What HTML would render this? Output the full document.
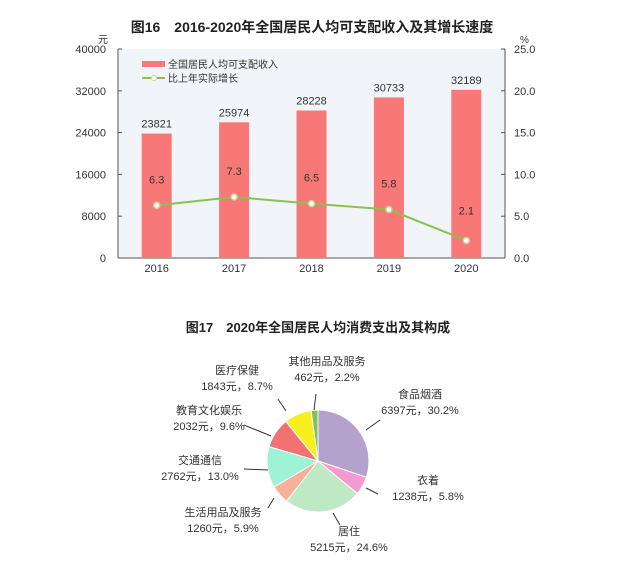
<!DOCTYPE html>
<html><head><meta charset="utf-8"><style>
body{margin:0;background:#fff;}
svg text{font-family:"Liberation Sans","Noto Sans CJK SC",sans-serif;}
</style></head><body>
<svg id="root" width="640" height="570" viewBox="0 0 640 570" xmlns="http://www.w3.org/2000/svg">
<rect width="640" height="570" fill="#fff"/>
<text x="312" y="32" text-anchor="middle" font-size="14" font-weight="bold" fill="#222">图16　2016-2020年全国居民人均可支配收入及其增长速度</text>
<g id="bar"></g>
<text x="318" y="332" text-anchor="middle" font-size="13" font-weight="bold" fill="#222">图17　2020年全国居民人均消费支出及其构成</text>
<g id="pie"></g>
</svg>
<script>
const years=["2016","2017","2018","2019","2020"];
const income=[23821,25974,28228,30733,32189];
const growth=[6.3,7.3,6.5,5.8,2.1];
const leftTicks=[0,8000,16000,24000,32000,40000];
const rightTicks=["0.0","5.0","10.0","15.0","20.0","25.0"];
const pieLabels=["食品烟酒","衣着","居住","生活用品及服务","交通通信","教育文化娱乐","医疗保健","其他用品及服务"];
const pieValues=[6397,1238,5215,1260,2762,2032,1843,462];
const piePct=["30.2%","5.8%","24.6%","5.9%","13.0%","9.6%","8.7%","2.2%"];
const NS="http://www.w3.org/2000/svg";
function mk(p,t,a,txt){const e=document.createElementNS(NS,t);for(const k in a)e.setAttribute(k,a[k]);if(txt!=null)e.textContent=txt;p.appendChild(e);return e;}
const g=document.getElementById('bar');
const X0=118,X1=505,Y0=258,Y1=49;
const band=(X1-X0)/years.length;
const xc=i=>X0+band*(i+0.5);
const yL=v=>Y0-(v/40000)*(Y0-Y1);
const yR=v=>Y0-(v/25)*(Y0-Y1);
let e=mk(g,'rect',{x:X0,y:Y1,width:X1-X0,height:Y0-Y1,fill:'#f1f5f9'});

leftTicks.forEach((t,i)=>{
  let y=yL(t);
  mk(g,'line',{x1:X0,x2:X0+4,y1:y,y2:y,stroke:'#555'});
  let tx=mk(g,'text',{x:106,y:y+4,'text-anchor':'end','font-size':11,fill:'#333'},t);
  
  mk(g,'line',{x1:X1-4,x2:X1,y1:y,y2:y,stroke:'#555'});
  let rt=mk(g,'text',{x:514,y:y+4,'font-size':11,fill:'#333'},rightTicks[i]);
  
});
e=mk(g,'text',{x:98,y:43,'font-size':10,fill:'#333'},'元');
e=mk(g,'text',{x:520,y:43,'font-size':10,fill:'#333'},'%');
mk(g,'line',{x1:X0,x2:X0,y1:Y1,y2:Y0,stroke:'#555'});
mk(g,'line',{x1:X1,x2:X1,y1:Y1,y2:Y0,stroke:'#555'});
mk(g,'line',{x1:X0,x2:X1,y1:Y0,y2:Y0,stroke:'#555'});
years.forEach((yr,i)=>{
  let b=mk(g,'rect',{x:xc(i)-15,y:yL(income[i]),width:30,height:Y0-yL(income[i]),fill:'#f87878'});
  
  let t=mk(g,'text',{x:xc(i),y:yL(income[i])-6,'text-anchor':'middle','font-size':11,fill:'#333'},income[i]);
  
  let xl=mk(g,'text',{x:xc(i),y:272,'text-anchor':'middle','font-size':11,fill:'#333'},yr);
  
  let gl=mk(g,'text',{x:xc(i),y:yR(growth[i])-(i==4?26:22),'text-anchor':'middle','font-size':11,fill:'#333'},growth[i].toFixed(1));
  
});
let pl=mk(g,'polyline',{points:growth.map((v,i)=>xc(i)+','+yR(v)).join(' '),fill:'none',stroke:'#8dc04f','stroke-width':2});

growth.forEach((v,i)=>{let c=mk(g,'circle',{cx:xc(i),cy:yR(v),r:3,fill:'#fff',stroke:'#c8d890','stroke-width':1.5});
});
e=mk(g,'rect',{x:142,y:61,width:23,height:6,fill:'#f87878'});
e=mk(g,'text',{x:168,y:68,'font-size':10,fill:'#333'},'全国居民人均可支配收入');
mk(g,'line',{x1:142,x2:165,y1:78,y2:78,stroke:'#8dc04f','stroke-width':2});
mk(g,'circle',{cx:154,cy:78,r:2.5,fill:'#fff',stroke:'#c8d890'});
e=mk(g,'text',{x:168,y:82,'font-size':10,fill:'#333'},'比上年实际增长');

const p=document.getElementById('pie');
const cx=318,cy=461,R=51;
const colors=['#b4a2cc','#f59ad0','#bfe8c4','#f7b19a','#9ef2d6','#f07272','#f7f01e','#7cc45a'];
const labelPos=[[420,398],[428,484],[349,535],[223,516],[200,464],[209,414],[237,374],[327,365]];
const lines=[[[366,430],[380,420]],[[366,488],[378,494]],[[333,513],[340,525]],[[274,498],[268,508]],[[268,470],[244,469]],[[271,436],[244,425]],[[286,411],[278,399]],[[314,410],[316,394]]];
const total=pieValues.reduce((a,b)=>a+b,0);
let ang=-Math.PI/2;
pieValues.forEach((v,i)=>{
  let a2=ang+v/total*2*Math.PI;
  let x1=cx+R*Math.cos(ang),y1=cy+R*Math.sin(ang),x2=cx+R*Math.cos(a2),y2=cy+R*Math.sin(a2);
  let s=mk(p,'path',{d:`M${cx},${cy}L${x1},${y1}A${R},${R} 0 ${a2-ang>Math.PI?1:0} 1 ${x2},${y2}Z`,fill:colors[i],stroke:'#fff','stroke-width':1});
  
  ang=a2;
  let [lx,ly]=labelPos[i];
  let t1=mk(p,'text',{x:lx,y:ly,'text-anchor':'middle','font-size':11,fill:'#333'},pieLabels[i]);
  
  let t2=mk(p,'text',{x:lx,y:ly+16,'text-anchor':'middle','font-size':11,fill:'#333'},pieValues[i]+'元，'+piePct[i]);
  
  let L=lines[i];let ln=mk(p,'line',{x1:L[0][0],y1:L[0][1],x2:L[1][0],y2:L[1][1],stroke:'#333'});
  
});
</script>
</body></html>
